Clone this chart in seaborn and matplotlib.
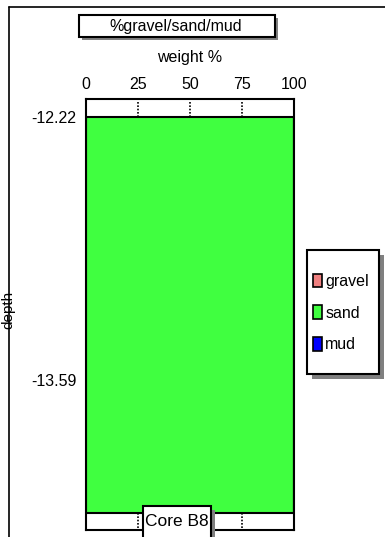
import matplotlib
matplotlib.use("Agg")
import matplotlib.pyplot as plt
import seaborn as sns
from matplotlib.patches import Rectangle, Patch
from matplotlib.lines import Line2D

# ---- data ----
components = ["gravel", "sand", "mud"]
colors = ["#f08080", "#40ff40", "#0000ff"]
depth_top = [-12.22]
depth_bottom = [-14.28]
gravel = [0.0]
sand = [100.0]
mud = [0.0]
x_ticks = [0, 25, 50, 75, 100]
y_ticks = [-12.22, -13.59]
title = "%gravel/sand/mud"
xlabel = "weight %"
ylabel = "depth"
core = "Core B8"

sns.set_style("white")
plt.rcParams["font.family"] = ["Liberation Sans", "DejaVu Sans"]
plt.rcParams["text.color"] = "black"
plt.rcParams["xtick.color"] = "black"
plt.rcParams["ytick.color"] = "black"
plt.rcParams["axes.labelcolor"] = "black"

W, H = 385, 537
fig = plt.figure(figsize=(W / 100, H / 100), dpi=100)

def fx(px):
    return px / W

def fy(py):
    return 1 - py / H

FS = 11.5

ax = fig.add_axes([fx(86), fy(530), fx(294) - fx(86), fy(99) - fy(530)])

values = {"gravel": gravel, "sand": sand, "mud": mud}
left = [0.0] * len(depth_top)
for comp, col in zip(components, colors):
    vals = values[comp]
    centers = [(t + b) / 2 for t, b in zip(depth_top, depth_bottom)]
    heights = [t - b for t, b in zip(depth_top, depth_bottom)]
    ax.barh(centers, vals, height=heights, left=left, color=col,
            edgecolor="black", linewidth=1.5, label=comp)
    left = [l + v for l, v in zip(left, vals)]

ax.set_xlim(0, 100)
ax.set_ylim(-14.37, -12.126)
ax.xaxis.tick_top()
ax.set_xticks(x_ticks)
ax.set_xticklabels([str(t) for t in x_ticks], fontsize=FS)
ax.set_yticks(y_ticks)
ax.set_yticklabels([f"{t:.2f}" for t in y_ticks], fontsize=FS)
ax.tick_params(axis="y", length=0, pad=7)
ax.tick_params(axis="x", length=0, pad=5)
for s in ax.spines.values():
    s.set_visible(True)
    s.set_color("black")
    s.set_linewidth(1.5)

# dotted tick marks in top and bottom bands
for t in x_ticks[1:-1]:
    ax.vlines(t, depth_top[0], -12.14, colors="black", linestyles=(0, (1, 1)), linewidth=1.2)
    ax.vlines(t, -14.36, depth_bottom[-1], colors="black", linestyles=(0, (1, 1)), linewidth=1.2)

# outer frame lines
fig.add_artist(Line2D([fx(9), fx(9)], [fy(7), 0], color="black", lw=1.2))
fig.add_artist(Line2D([fx(9), 1], [fy(7), fy(7)], color="black", lw=1.2))

def shadow_box(x0, y0, x1, y1, off=4, lw=1.5):
    fig.add_artist(Rectangle((fx(x0 + off), fy(y1 + off)), fx(x1) - fx(x0), fy(y0) - fy(y1),
                             facecolor="#808080", edgecolor="none", zorder=5))
    fig.add_artist(Rectangle((fx(x0), fy(y1)), fx(x1) - fx(x0), fy(y0) - fy(y1),
                             facecolor="white", edgecolor="black", lw=lw, zorder=6))

# title box
shadow_box(79, 15, 275, 37, off=3)
fig.text(fx(176), fy(26), title, ha="center", va="center", fontsize=FS, zorder=7)
fig.text(fx(190), fy(57), xlabel, ha="center", va="center", fontsize=FS)
fig.text(fx(8), fy(310), ylabel, ha="center", va="center", rotation=90, fontsize=11)

# legend box
shadow_box(307, 250, 379, 374, off=5)
handles = [Patch(facecolor=c, edgecolor="black", lw=1.2) for c in colors]
fig.legend(handles, components, loc="center left", bbox_to_anchor=(fx(299), fy(313)),
           frameon=False, fontsize=FS, handlelength=0.55, handleheight=0.9,
           handletextpad=0.2, labelspacing=1.05).set_zorder(8)

# core label box
shadow_box(143, 506, 211, 540, off=4)
fig.text(fx(177), fy(521), core, ha="center", va="center", fontsize=12.5, zorder=7)

fig.savefig("out.png", dpi=100)
